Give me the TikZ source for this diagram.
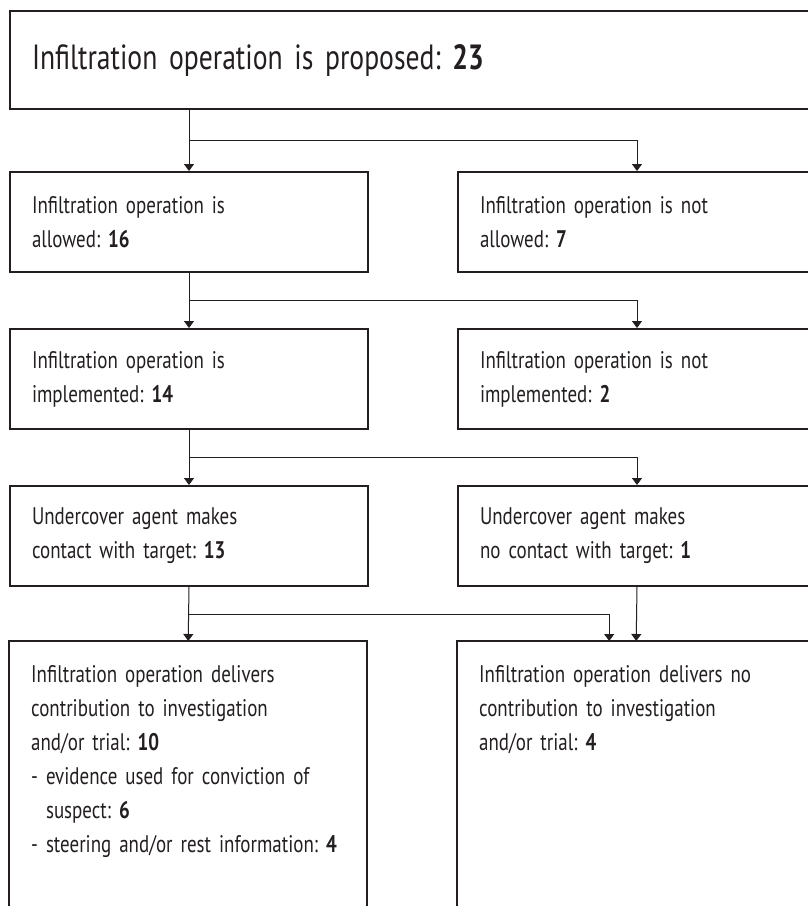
\documentclass[tikz,border=0pt]{standalone}
\usepackage{fontspec}
\setmainfont{PT Sans}[FakeStretch=0.79]
\frenchspacing
\usetikzlibrary{arrows.meta,positioning,calc}
\definecolor{flowink}{HTML}{231F20}
\newcommand\stagefont{\fontsize{24}{34}\selectfont\spaceskip=5pt plus 1pt\relax}
\newcommand\headfont{\fontsize{35}{40}\selectfont\spaceskip=7pt plus 1pt\relax}

\begin{document}
\begin{tikzpicture}[x=1pt,y=-1pt,text=flowink,font=\stagefont,
  >={Triangle[width=10pt,length=7pt]},
  stagebox/.style={draw=flowink,line width=2pt,anchor=north west,align=left,
    text width=314pt,minimum width=358pt,minimum height=100pt,
    inner xsep=22pt,inner ysep=0pt},
  openbox/.style={anchor=north west,align=left,text width=314pt,
    minimum width=358pt,inner xsep=22pt,inner ysep=24pt},
  frame/.style={draw=flowink,line width=2pt},
  link/.style={->,draw=flowink,line width=1pt}]
  \useasboundingbox[fill=white] (0,0) rectangle (808,906);

  \node[stagebox,minimum width=806pt,text width=762pt,minimum height=98pt,
    font=\headfont] (proposed) at (9,10)
    {Infiltration operation is proposed: \textbf{23}};

  \node[stagebox] (allowed) at (9,171)
    {Infiltration operation is\\allowed: \textbf{16}};
  \node[stagebox] (notallowed) at (457,171)
    {Infiltration operation is not\\allowed: \textbf{7}};
  \node[stagebox] (implemented) at (9,328)
    {Infiltration operation is\\implemented: \textbf{14}};
  \node[stagebox] (notimplemented) at (457,328)
    {Infiltration operation is not\\implemented: \textbf{2}};
  \node[stagebox] (contact) at (9,485)
    {Undercover agent makes\\contact with target: \textbf{13}};
  \node[stagebox] (nocontact) at (457,485)
    {Undercover agent makes\\no contact with target: \textbf{1}};

  \node[openbox] (delivers) at (9,641)
    {Infiltration operation delivers\\contribution to investigation\\
     and/or trial: \textbf{10}\\- evidence used for conviction of\\
     \hphantom{- }suspect: \textbf{6}\\
     \mbox{- steering and/or rest information: \textbf{4}}};
  \node[openbox] (nodelivers) at (457,641)
    {Infiltration operation delivers no\\contribution to investigation\\
     and/or trial: \textbf{4}};
  \foreach \n in {delivers,nodelivers}
    \draw[frame] ([yshift=-290pt]\n.north west) -- (\n.north west)
      -- (\n.north east) -- ([yshift=-290pt]\n.north east);

  \coordinate (split1) at ($(allowed.north |- proposed.south)!0.5!(allowed.north)$);
  \coordinate (split2) at ($(implemented.north |- allowed.south)!0.5!(implemented.north)$);
  \coordinate (split3) at ($(contact.north |- implemented.south)!0.5!(contact.north)$);
  \coordinate (split4) at ($(delivers.north |- contact.south)!0.5!(delivers.north)$);
  \coordinate (side4) at ([xshift=-27pt]nodelivers.north);

  \draw[link] (allowed.north |- proposed.south) -- (allowed.north);
  \draw[link] (split1) -| (notallowed.north);
  \draw[link] (allowed.south) -- (implemented.north);
  \draw[link] (split2) -| (notimplemented.north);
  \draw[link] (implemented.south) -- (contact.north);
  \draw[link] (split3) -| (nocontact.north);
  \draw[link] (contact.south) -- (delivers.north);
  \draw[link] (split4) -| (side4);
  \draw[link] (nocontact.south) -- (nodelivers.north);
\end{tikzpicture}
\end{document}
